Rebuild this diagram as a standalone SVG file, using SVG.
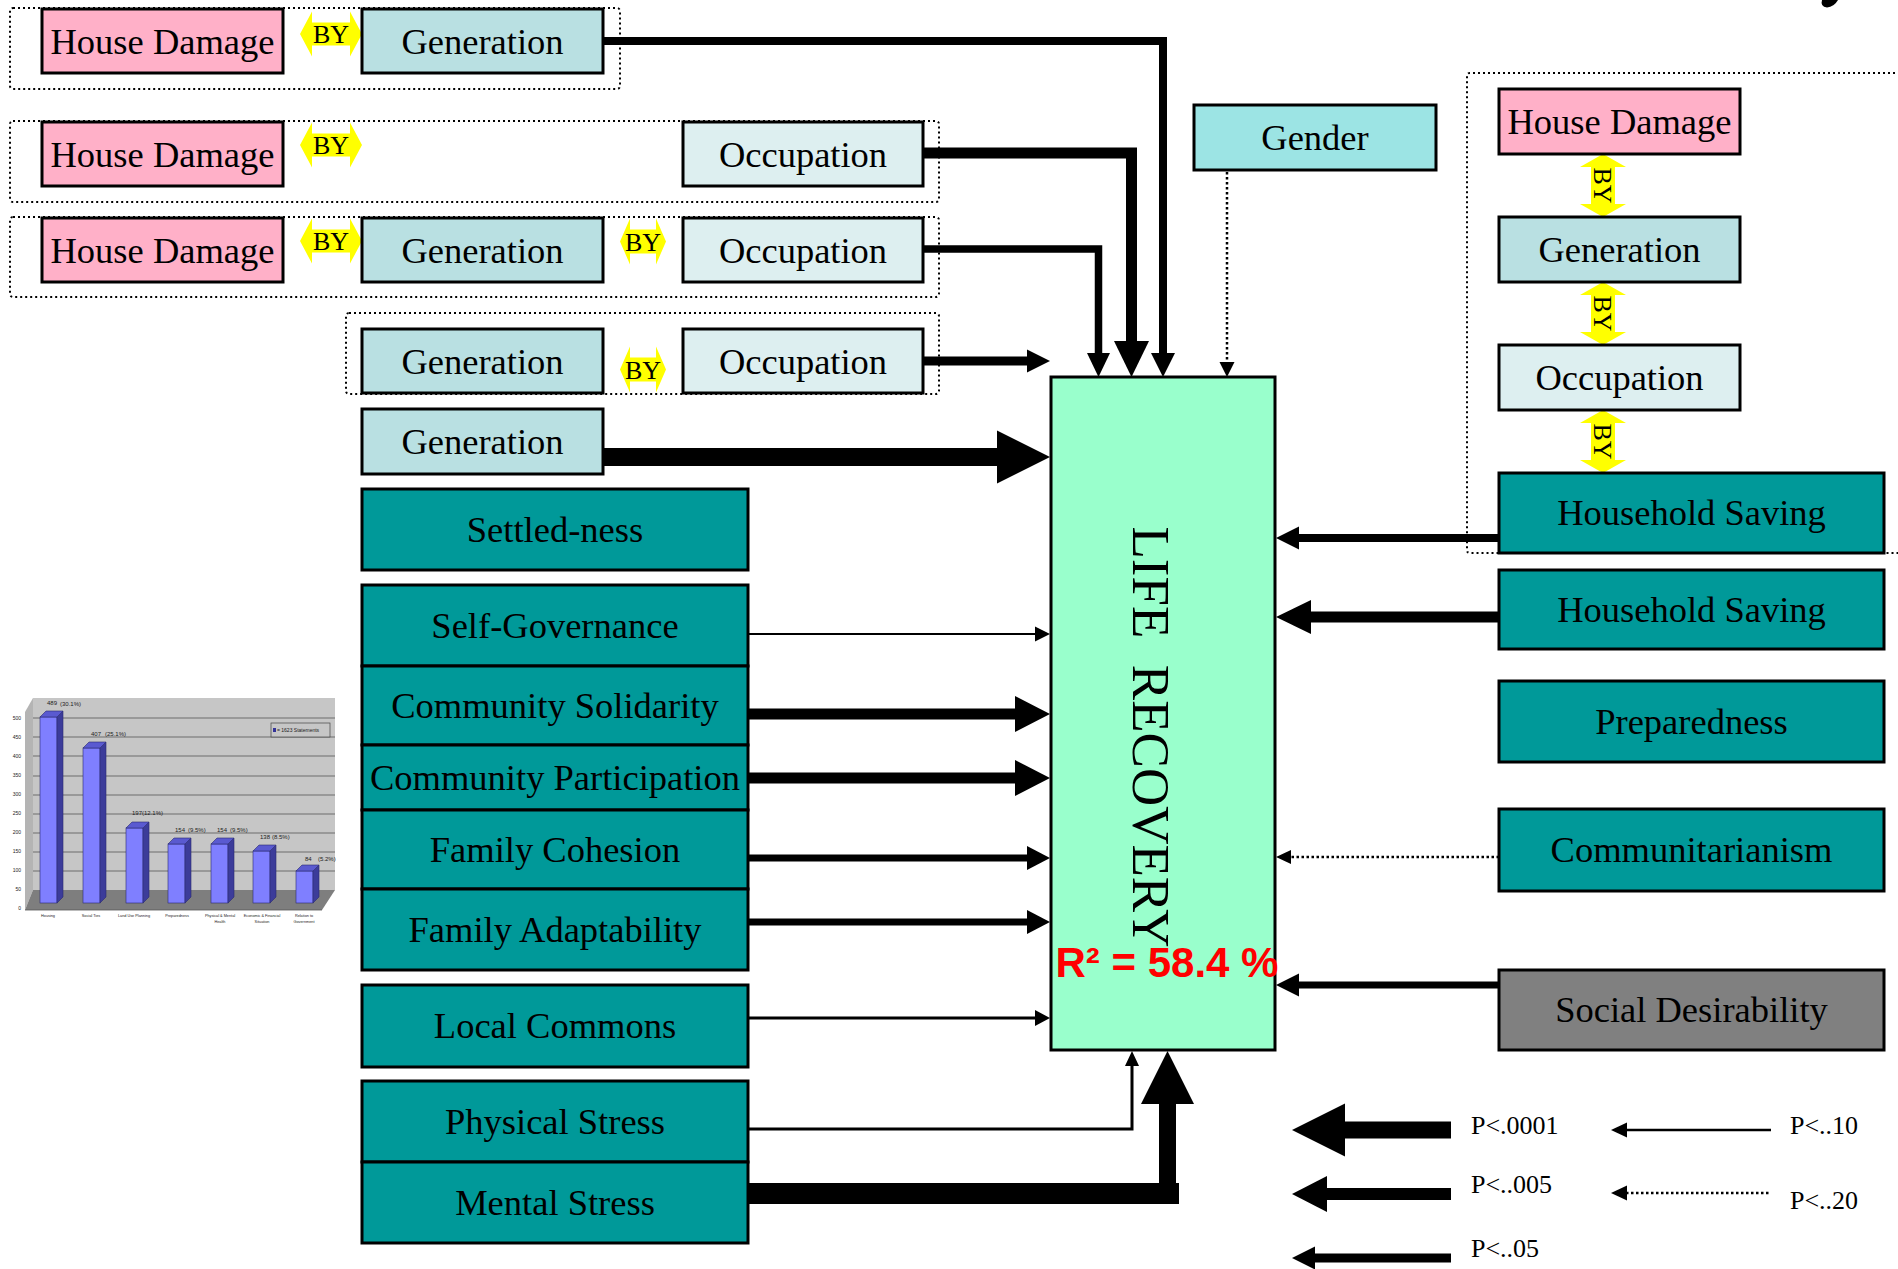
<svg xmlns="http://www.w3.org/2000/svg" width="1898" height="1269" viewBox="0 0 1898 1269">
<style>
.box{stroke:#000;stroke-width:3}
.pink{fill:#FFB0C8}
.gen{fill:#B9E0E2}
.occ{fill:#DDEFF0}
.gender{fill:#9CE4E4}
.teal{fill:#009999}
.gray{fill:#808080}
.lr{fill:#99FFCC}
.lbl{font-family:"Liberation Serif","Times New Roman",serif;font-size:36.5px;text-anchor:middle;fill:#000}
.by{fill:#FFFF00}
.bytxt{font-family:"Liberation Serif","Times New Roman",serif;font-size:26px;text-anchor:middle;fill:#000}
.dash{fill:none;stroke:#000;stroke-width:2;stroke-dasharray:2 3}
.ln{fill:none;stroke:#000;stroke-linecap:butt;stroke-linejoin:miter}
.dot{fill:none;stroke:#000;stroke-width:2.5;stroke-dasharray:2.5 2.5}
.head{fill:#000}
.leg{font-family:"Liberation Serif","Times New Roman",serif;font-size:26px;fill:#000}
.ct{font-family:"Liberation Sans",Arial,sans-serif;fill:#222}
</style>
<rect width="1898" height="1269" fill="#fff"/>

<!-- dashed grouping frames -->
<g id="frames">
<rect class="dash" x="10" y="8" width="610" height="81" rx="3"/>
<rect class="dash" x="10" y="121" width="929" height="81" rx="3"/>
<rect class="dash" x="10" y="217" width="929" height="80" rx="3"/>
<rect class="dash" x="346" y="313" width="593" height="81" rx="3"/>
<path class="dash" d="M1910,73 H1470 Q1467,73 1467,76 V550 Q1467,553 1470,553 H1910"/>
</g>

<!-- BY double arrows -->
<g id="by-arrows">
<g id="by1"><polygon class="by" points="300,34 312,11.5 312,22.5 350,22.5 350,11.5 362,34 350,56.5 350,45.5 312,45.5 312,56.5"/><text class="bytxt" x="331" y="43">BY</text></g>
<g id="by2"><polygon class="by" points="300,145 312,122.5 312,133.5 350,133.5 350,122.5 362,145 350,167.5 350,156.5 312,156.5 312,167.5"/><text class="bytxt" x="331" y="154">BY</text></g>
<g id="by3a"><polygon class="by" points="300,241 312,218.5 312,229.5 350,229.5 350,218.5 362,241 350,263.5 350,252.5 312,252.5 312,263.5"/><text class="bytxt" x="331" y="250">BY</text></g>
<g id="by3b"><polygon class="by" points="620,241.5 630,218.5 630,229.5 656,229.5 656,218.5 666,241.5 656,264.5 656,253.5 630,253.5 630,264.5"/><text class="bytxt" x="643" y="250.5">BY</text></g>
<g id="by4"><polygon class="by" points="620,369.5 630,346.5 630,357.5 656,357.5 656,346.5 666,369.5 656,392.5 656,381.5 630,381.5 630,392.5"/><text class="bytxt" x="643" y="378.5">BY</text></g>
<g id="by5"><polygon class="by" points="1603,154 1626,167 1615,167 1615,204 1626,204 1603,217 1580,204 1591,204 1591,167 1580,167"/><text class="bytxt" transform="translate(1594,185.5) rotate(90)">BY</text></g>
<g id="by6"><polygon class="by" points="1603,282 1626,295 1615,295 1615,332 1626,332 1603,345 1580,332 1591,332 1591,295 1580,295"/><text class="bytxt" transform="translate(1594,313.5) rotate(90)">BY</text></g>
<g id="by7"><polygon class="by" points="1603,410 1626,423 1615,423 1615,460 1626,460 1603,473 1580,460 1591,460 1591,423 1580,423"/><text class="bytxt" transform="translate(1594,441.5) rotate(90)">BY</text></g>
</g>

<!-- nodes -->
<g id="hd1"><rect class="box pink" x="42" y="9" width="241" height="64"/><text class="lbl" x="162.5" y="54">House Damage</text></g>
<g id="gen1"><rect class="box gen" x="362" y="9" width="241" height="64"/><text class="lbl" x="482.5" y="54">Generation</text></g>
<g id="hd2"><rect class="box pink" x="42" y="122" width="241" height="64"/><text class="lbl" x="162.5" y="167">House Damage</text></g>
<g id="occ2"><rect class="box occ" x="683" y="122" width="240" height="64"/><text class="lbl" x="803" y="167">Occupation</text></g>
<g id="hd3"><rect class="box pink" x="42" y="218" width="241" height="64"/><text class="lbl" x="162.5" y="263">House Damage</text></g>
<g id="gen3"><rect class="box gen" x="362" y="218" width="241" height="64"/><text class="lbl" x="482.5" y="263">Generation</text></g>
<g id="occ3"><rect class="box occ" x="683" y="218" width="240" height="64"/><text class="lbl" x="803" y="263">Occupation</text></g>
<g id="gen4"><rect class="box gen" x="362" y="329" width="241" height="64"/><text class="lbl" x="482.5" y="374">Generation</text></g>
<g id="occ4"><rect class="box occ" x="683" y="329" width="240" height="64"/><text class="lbl" x="803" y="374">Occupation</text></g>
<g id="gen5"><rect class="box gen" x="362" y="409" width="241" height="65"/><text class="lbl" x="482.5" y="454">Generation</text></g>

<g id="settledness"><rect class="box teal" x="362" y="489" width="386" height="81"/><text class="lbl" x="555" y="542">Settled-ness</text></g>
<g id="selfgov"><rect class="box teal" x="362" y="585" width="386" height="81"/><text class="lbl" x="555" y="638">Self-Governance</text></g>
<g id="commsol"><rect class="box teal" x="362" y="666" width="386" height="79"/><text class="lbl" x="555" y="718">Community Solidarity</text></g>
<g id="commpart"><rect class="box teal" x="362" y="745" width="386" height="65"/><text class="lbl" x="555" y="790">Community Participation</text></g>
<g id="famcoh"><rect class="box teal" x="362" y="810" width="386" height="79"/><text class="lbl" x="555" y="862">Family Cohesion</text></g>
<g id="famadapt"><rect class="box teal" x="362" y="889" width="386" height="81"/><text class="lbl" x="555" y="942">Family Adaptability</text></g>
<g id="localcommons"><rect class="box teal" x="362" y="985" width="386" height="82"/><text class="lbl" x="555" y="1038">Local Commons</text></g>
<g id="physstress"><rect class="box teal" x="362" y="1081" width="386" height="81"/><text class="lbl" x="555" y="1134">Physical Stress</text></g>
<g id="mentstress"><rect class="box teal" x="362" y="1162" width="386" height="81"/><text class="lbl" x="555" y="1215">Mental Stress</text></g>

<g id="gender"><rect class="box gender" x="1194" y="105" width="242" height="65"/><text class="lbl" x="1315" y="150">Gender</text></g>
<g id="hdR"><rect class="box pink" x="1499" y="89" width="241" height="65"/><text class="lbl" x="1619.5" y="134">House Damage</text></g>
<g id="genR"><rect class="box gen" x="1499" y="217" width="241" height="65"/><text class="lbl" x="1619.5" y="262">Generation</text></g>
<g id="occR"><rect class="box occ" x="1499" y="345" width="241" height="65"/><text class="lbl" x="1619.5" y="390">Occupation</text></g>
<g id="hsave1"><rect class="box teal" x="1499" y="473" width="385" height="80"/><text class="lbl" x="1691.5" y="525">Household Saving</text></g>
<g id="hsave2"><rect class="box teal" x="1499" y="570" width="385" height="79"/><text class="lbl" x="1691.5" y="622">Household Saving</text></g>
<g id="prep"><rect class="box teal" x="1499" y="681" width="385" height="81"/><text class="lbl" x="1691.5" y="734">Preparedness</text></g>
<g id="commun"><rect class="box teal" x="1499" y="809" width="385" height="82"/><text class="lbl" x="1691.5" y="862">Communitarianism</text></g>
<g id="socdes"><rect class="box gray" x="1499" y="970" width="385" height="80"/><text class="lbl" x="1691.5" y="1022">Social Desirability</text></g>

<g id="liferecovery">
<rect class="box lr" x="1051" y="377" width="224" height="673"/>
<text transform="translate(1133,737) rotate(90)" font-family="Liberation Serif, Times New Roman, serif" font-size="53" text-anchor="middle" fill="#000">LIFE&#160;&#160;RECOVERY</text>
<text x="1167" y="977" font-family="Liberation Sans, Arial, sans-serif" font-weight="bold" font-size="42" text-anchor="middle" fill="#FF0000">R² = 58.4 %</text>
</g>

<!-- connectors -->
<g id="connectors">
<polyline class="ln" stroke-width="8" points="603,41 1163,41 1163,354"/>
<polygon class="head" points="1151,353 1175,353 1163,377"/>
<polyline class="ln" stroke-width="11" points="923,153 1131.5,153 1131.5,342"/>
<polygon class="head" points="1114,341 1149,341 1131.5,377"/>
<polyline class="ln" stroke-width="7.5" points="923,249 1098.5,249 1098.5,354"/>
<polygon class="head" points="1087,353 1110,353 1098.5,377"/>
<line class="ln" stroke-width="9" x1="923" y1="361" x2="1028" y2="361"/>
<polygon class="head" points="1027,349.5 1027,372.5 1050,361"/>
<line class="dot" x1="1227" y1="172" x2="1227" y2="363"/>
<polygon class="head" points="1219.5,362 1234.5,362 1227,377"/>
<line class="ln" stroke-width="18" x1="603" y1="457" x2="998" y2="457"/>
<polygon class="head" points="997,430.5 997,483.5 1050,457"/>
<line class="ln" stroke-width="2" x1="748" y1="634" x2="1036" y2="634"/>
<polygon class="head" points="1035,626.5 1035,641.5 1050,634"/>
<line class="ln" stroke-width="11" x1="748" y1="714" x2="1016" y2="714"/>
<polygon class="head" points="1015,696 1015,732 1050,714"/>
<line class="ln" stroke-width="11" x1="748" y1="778" x2="1016" y2="778"/>
<polygon class="head" points="1015,760 1015,796 1050,778"/>
<line class="ln" stroke-width="7" x1="748" y1="858" x2="1028" y2="858"/>
<polygon class="head" points="1027,846 1027,870 1050,858"/>
<line class="ln" stroke-width="7" x1="748" y1="922" x2="1028" y2="922"/>
<polygon class="head" points="1027,910 1027,934 1050,922"/>
<line class="ln" stroke-width="3" x1="748" y1="1018" x2="1036" y2="1018"/>
<polygon class="head" points="1035,1010 1035,1026 1050,1018"/>
<polyline class="ln" stroke-width="3" points="748,1129 1132,1129 1132,1065"/>
<polygon class="head" points="1125,1066 1139,1066 1132,1051"/>
<line class="ln" stroke-width="21" x1="748" y1="1193.5" x2="1179" y2="1193.5"/>
<line class="ln" stroke-width="17" x1="1167.5" y1="1190" x2="1167.5" y2="1103"/>
<polygon class="head" points="1141,1104 1194,1104 1167.5,1051"/>
<line class="ln" stroke-width="8" x1="1499" y1="538" x2="1298" y2="538"/>
<polygon class="head" points="1299,526.5 1299,549.5 1276,538"/>
<line class="ln" stroke-width="11" x1="1499" y1="617" x2="1310" y2="617"/>
<polygon class="head" points="1311,600 1311,634 1276,617"/>
<line class="dot" x1="1499" y1="857" x2="1290" y2="857"/>
<polygon class="head" points="1291,850 1291,864 1276,857"/>
<line class="ln" stroke-width="7" x1="1499" y1="985" x2="1298" y2="985"/>
<polygon class="head" points="1299,973.5 1299,996.5 1276,985"/>
</g>

<!-- legend -->
<g id="legend">
<rect x="1344" y="1121.5" width="107" height="17" fill="#000"/>
<polygon class="head" points="1345,1103.5 1345,1156.5 1292,1130"/>
<text class="leg" x="1471" y="1134">P&lt;.0001</text>
<rect x="1326" y="1188" width="125" height="12" fill="#000"/>
<polygon class="head" points="1327,1176 1327,1212 1292,1194"/>
<text class="leg" x="1471" y="1193">P&lt;..005</text>
<rect x="1314" y="1253.5" width="137" height="9" fill="#000"/>
<polygon class="head" points="1315,1246.5 1315,1269.5 1292,1258"/>
<text class="leg" x="1471" y="1257">P&lt;..05</text>
<line class="ln" stroke-width="2.5" x1="1626" y1="1130" x2="1771" y2="1130"/>
<polygon class="head" points="1627,1122.5 1627,1137.5 1611,1130"/>
<text class="leg" x="1790" y="1134">P&lt;..10</text>
<line class="dot" x1="1626" y1="1193" x2="1771" y2="1193"/>
<polygon class="head" points="1627,1185.5 1627,1200.5 1611,1193"/>
<text class="leg" x="1790" y="1209">P&lt;..20</text>
</g>

<!-- bar chart thumbnail -->
<g id="chart">
<polygon points="25,712 33,698 33,890 25,910" fill="#B4B4B4"/>
<rect x="33" y="698" width="302" height="192" fill="#C6C6C6"/>
<polygon points="25,910 33,890 335,890 322,910" fill="#7E7E7E"/>
<g stroke="#555" stroke-width="0.8">
<line x1="33" y1="718" x2="335" y2="718"/><line x1="33" y1="737" x2="335" y2="737"/>
<line x1="33" y1="756" x2="335" y2="756"/><line x1="33" y1="776" x2="335" y2="776"/>
<line x1="33" y1="795" x2="335" y2="795"/><line x1="33" y1="814" x2="335" y2="814"/>
<line x1="33" y1="833" x2="335" y2="833"/><line x1="33" y1="852" x2="335" y2="852"/>
<line x1="33" y1="871" x2="335" y2="871"/>
<line x1="25" y1="910" x2="322" y2="910"/>
</g>
<g class="ct" font-size="5" text-anchor="end">
<text x="21" y="720">500</text><text x="21" y="739">450</text><text x="21" y="758">400</text>
<text x="21" y="777">350</text><text x="21" y="796">300</text><text x="21" y="815">250</text>
<text x="21" y="834">200</text><text x="21" y="853">150</text><text x="21" y="872">100</text>
<text x="21" y="891">50</text><text x="21" y="910">0</text>
</g>
<g stroke="#2A2A70" stroke-width="0.6">
<rect x="40" y="717" width="17" height="186" fill="#7F7FFF"/><polygon points="57,717 63,711 63,897 57,903" fill="#3C3C9A"/><polygon points="40,717 46,711 63,711 57,717" fill="#5A5AD0"/>
<rect x="83" y="748" width="17" height="155" fill="#7F7FFF"/><polygon points="100,748 106,742 106,897 100,903" fill="#3C3C9A"/><polygon points="83,748 89,742 106,742 100,748" fill="#5A5AD0"/>
<rect x="126" y="828" width="17" height="75" fill="#7F7FFF"/><polygon points="143,828 149,822 149,897 143,903" fill="#3C3C9A"/><polygon points="126,828 132,822 149,822 143,828" fill="#5A5AD0"/>
<rect x="168" y="844" width="17" height="59" fill="#7F7FFF"/><polygon points="185,844 191,838 191,897 185,903" fill="#3C3C9A"/><polygon points="168,844 174,838 191,838 185,844" fill="#5A5AD0"/>
<rect x="211" y="844" width="17" height="59" fill="#7F7FFF"/><polygon points="228,844 234,838 234,897 228,903" fill="#3C3C9A"/><polygon points="211,844 217,838 234,838 228,844" fill="#5A5AD0"/>
<rect x="253" y="851" width="17" height="52" fill="#7F7FFF"/><polygon points="270,851 276,845 276,897 270,903" fill="#3C3C9A"/><polygon points="253,851 259,845 276,845 270,851" fill="#5A5AD0"/>
<rect x="296" y="871" width="17" height="32" fill="#7F7FFF"/><polygon points="313,871 319,865 319,897 313,903" fill="#3C3C9A"/><polygon points="296,871 302,865 319,865 313,871" fill="#5A5AD0"/>
</g>
<g class="ct" font-size="6">
<text x="47" y="705">489</text><text x="60" y="706">(30.1%)</text>
<text x="91" y="736">407</text><text x="105" y="736">(25.1%)</text>
<text x="132" y="815">197</text><text x="142" y="815">(12.1%)</text>
<text x="175" y="832">154</text><text x="188" y="832">(9.5%)</text>
<text x="217" y="832">154</text><text x="230" y="832">(9.5%)</text>
<text x="260" y="839">138</text><text x="272" y="839">(8.5%)</text>
<text x="305" y="861">84</text><text x="318" y="861">(5.2%)</text>
</g>
<rect x="271" y="723" width="59" height="14" fill="#C6C6C6" stroke="#444" stroke-width="0.7"/>
<rect x="273" y="728" width="3" height="4" fill="#333399"/>
<text class="ct" x="277" y="732" font-size="5">= 1623 Statements</text>
<g class="ct" font-size="3.8" text-anchor="middle">
<text x="48" y="917">Housing</text>
<text x="91" y="917">Social Ties</text>
<text x="134" y="917">Land Use Planning</text>
<text x="177" y="917">Preparedness</text>
<text x="220" y="917">Physical &amp; Mental</text><text x="220" y="923">Health</text>
<text x="262" y="917">Economic &amp; Financial</text><text x="262" y="923">Situation</text>
<text x="304" y="917">Relation to</text><text x="304" y="923">Government</text>
</g>
</g>

<!-- cut-off fragment at the top right -->
<path d="M1822,0 H1838 Q1834,7 1827,7.5 Q1820,6.5 1822,0 Z" fill="#000"/>
</svg>
